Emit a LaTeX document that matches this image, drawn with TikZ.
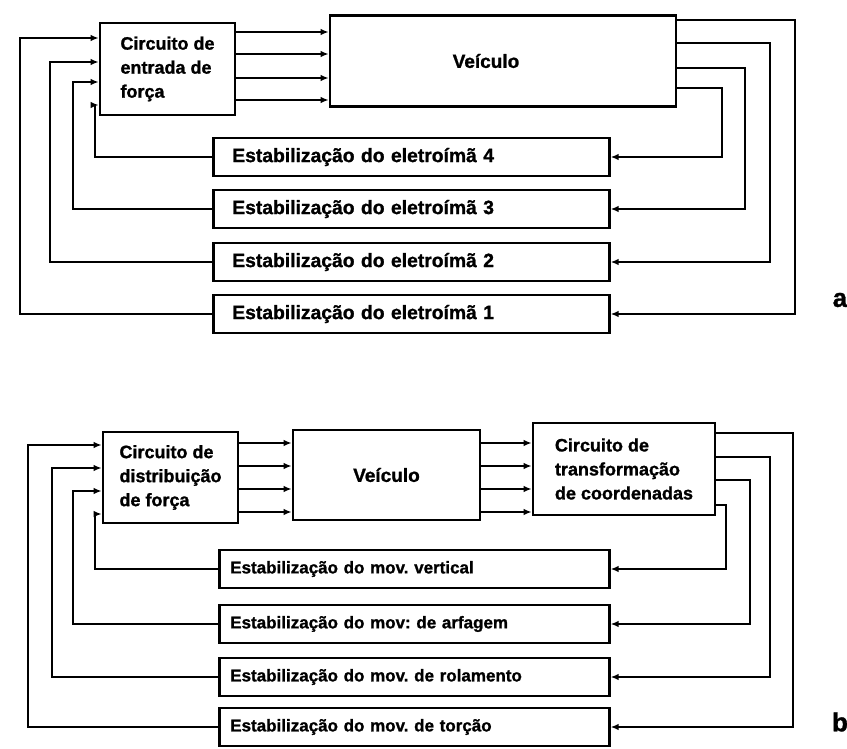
\documentclass[tikz,border=0pt]{standalone}
\usepackage{fontspec}
\setmainfont{Liberation Sans}[BoldFeatures={FakeBold=1.2}]
\usetikzlibrary{arrows.meta}
\frenchspacing
\begin{document}
\begin{tikzpicture}[x=1pt,y=-1pt,
  blk/.style={draw, line width=2.6pt, rectangle, inner sep=0pt},
  mtext/.style={font=\bfseries\fontsize{18}{24}\selectfont, align=left},
  vtext/.style={font=\bfseries\fontsize{19}{23}\selectfont},
  stabA/.style={blk, anchor=west, minimum height=38pt, text width=358pt, inner xsep=19pt, align=left, font=\bfseries\fontsize{19.3}{23}\selectfont},
  stabB/.style={blk, anchor=west, minimum height=38pt, text width=368pt, inner xsep=11pt, align=left, font=\bfseries\fontsize{17}{21}\selectfont},
  con/.style={line width=2.4pt},
  arr/.style={con, -{Latex[length=8pt,width=6.5pt]}},
  tag/.style={font=\bfseries\fontsize{26}{28}\selectfont}
]
\useasboundingbox (0,0) rectangle (847,749);

% ---------------- part a ----------------
\node[blk, mtext, minimum width=135pt, minimum height=92pt] (cin) at (167.5,69) {Circuito de\\entrada de\\força};
\node[blk, minimum width=346pt, minimum height=91pt,
      label={[vtext, xshift=-17pt]center:Veículo}] (veh) at (503,61) {};

\node[stabA] (s4) at (212,157) {Estabilização do eletroímã 4};
\node[stabA] (s3) at (212,209) {Estabilização do eletroímã 3};
\node[stabA] (s2) at (212,262) {Estabilização do eletroímã 2};
\node[stabA] (s1) at (212,314) {Estabilização do eletroímã 1};

\foreach \yy in {32,54,78,100}
  \draw[arr] (cin.east |- 0,\yy) -- (veh.west |- 0,\yy);

\draw[arr] (veh.east |- 0,20) -| (795,0 |- s1.east) -- (s1.east);
\draw[arr] (veh.east |- 0,43) -| (770,0 |- s2.east) -- (s2.east);
\draw[arr] (veh.east |- 0,68) -| (745,0 |- s3.east) -- (s3.east);
\draw[arr] (veh.east |- 0,88) -| (722,0 |- s4.east) -- (s4.east);

\draw[arr] (s1.west) -| (20,38) -- (cin.west |- 0,38);
\draw[arr] (s2.west) -| (50,62) -- (cin.west |- 0,62);
\draw[arr] (s3.west) -| (73,82) -- (cin.west |- 0,82);
\draw[arr] (s4.west) -| (95,105) -- (cin.west |- 0,105);

\node[tag] (ta) at (840,300) {a};

% ---------------- part b ----------------
\node[blk, mtext, minimum width=135pt, minimum height=91pt] (cd) at (170.5,477.5) {Circuito de\\distribuição\\de força};
\node[blk, vtext, minimum width=187pt, minimum height=90pt] (vb) at (386.5,475) {Veículo};
\node[blk, mtext, minimum width=182pt, minimum height=92pt] (ct) at (624,469) {Circuito de\\transformação\\de coordenadas};

\node[stabB] (m1) at (218,569) {Estabilização do mov. vertical};
\node[stabB] (m2) at (218,624) {Estabilização do mov: de arfagem};
\node[stabB] (m3) at (218,677) {Estabilização do mov. de rolamento};
\node[stabB] (m4) at (218,727) {Estabilização do mov. de torção};

\foreach \yy in {443,466,489,512} {
  \draw[arr] (cd.east |- 0,\yy) -- (vb.west |- 0,\yy);
  \draw[arr] (vb.east |- 0,\yy) -- (ct.west |- 0,\yy);
}

\draw[arr] (ct.east |- 0,433) -| (793,0 |- m4.east) -- (m4.east);
\draw[arr] (ct.east |- 0,457) -| (770,0 |- m3.east) -- (m3.east);
\draw[arr] (ct.east |- 0,480) -| (750,0 |- m2.east) -- (m2.east);
\draw[arr] (ct.east |- 0,505) -| (726,0 |- m1.east) -- (m1.east);

\draw[arr] (m4.west) -| (28,445) -- (cd.west |- 0,445);
\draw[arr] (m3.west) -| (52,468) -- (cd.west |- 0,468);
\draw[arr] (m2.west) -| (73,491) -- (cd.west |- 0,491);
\draw[arr] (m1.west) -| (95,514) -- (cd.west |- 0,514);

\node[tag] (tb) at (840,722) {b};
\end{tikzpicture}
\end{document}
